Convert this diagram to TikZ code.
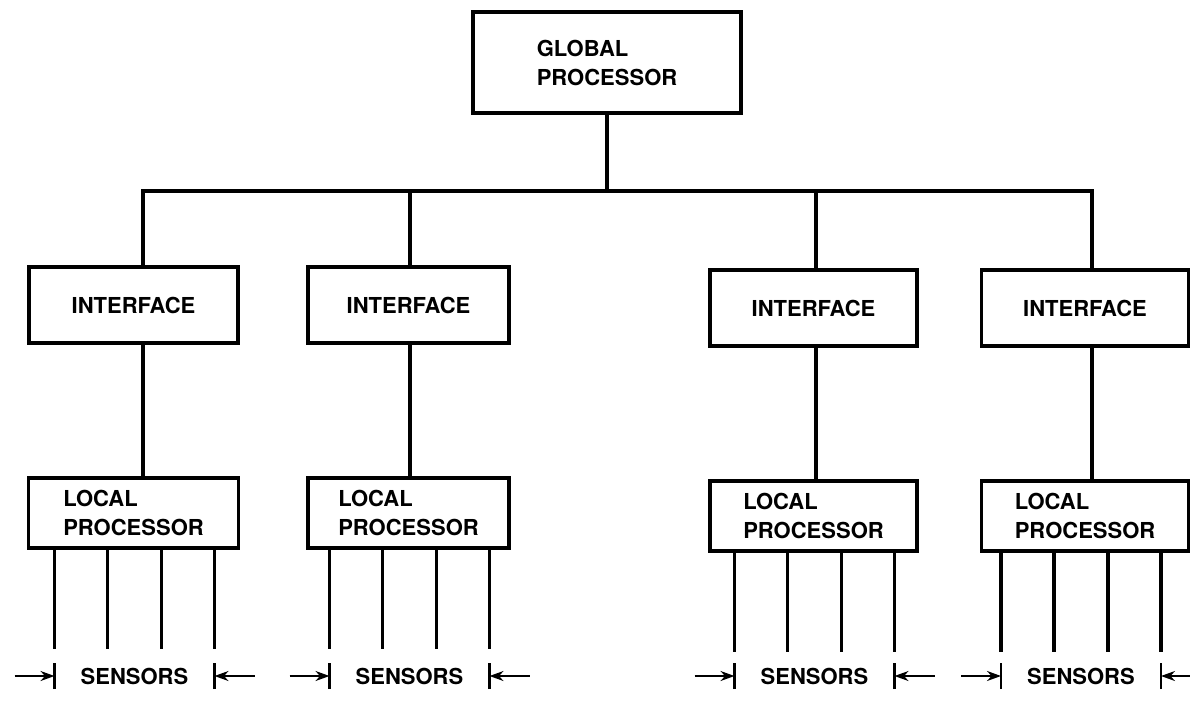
\documentclass[tikz,border=0pt]{standalone}
\usepackage{fontspec}
\setmainfont{TeX Gyre Heros}
\usetikzlibrary{positioning,calc,arrows.meta}

\begin{document}
\begin{tikzpicture}[x=1pt, y=-1pt, line width=3.5pt,
    block/.style={draw, minimum width=207pt, align=left, font=\fontsize{22}{29}\selectfont\bfseries},
    ifbox/.style={block, minimum height=76pt},
    lpbox/.style={block, minimum height=70pt, on grid, below=208pt of #1},
    tag/.style={font=\fontsize{22}{26}\selectfont\bfseries},]
    \useasboundingbox (0,0) rectangle (1190,701);
    \node[block, minimum width=268pt, minimum height=101pt] (glob) at (607,62.5) {GLOBAL\\PROCESSOR};
    \node[ifbox, minimum width=209pt] (if1) at (133.5,305) {INTERFACE};
    \node[ifbox, minimum width=201pt] (if2) at (408.5,305) {INTERFACE};
    \node[ifbox] (if3) at (813.5,308) {INTERFACE};
    \node[ifbox] (if4) at (1085,308) {INTERFACE};
    \node[lpbox=if1, minimum width=210pt] (lp1) {LOCAL\\PROCESSOR};
    \node[lpbox=if2, minimum width=201pt] (lp2) {LOCAL\\PROCESSOR};
    \node[lpbox=if3] (lp3) {LOCAL\\PROCESSOR};
    \node[lpbox=if4] (lp4) {LOCAL\\PROCESSOR};
    % bus taps
    \coordinate (t1) at (143,191);
    \coordinate (t2) at (410,191);
    \coordinate (t3) at (816,191);
    \coordinate (t4) at (1092,191);
    \draw (glob.south) -- (glob.south |- t1);
    \draw (t1 |- if1.north) -- (t1) -- (t4) -- (t4 |- if4.north);
    \draw (t2) -- (t2 |- if2.north);
    \draw (t3) -- (t3 |- if3.north);
    \foreach \i in {1,...,4}
        \draw (if\i.south -| t\i) -- (t\i |- lp\i.north);
    % sensor leads and their labels
    \foreach \p/\s in {1/0, 2/0, 3/0, 4/-5} {
        \foreach \d in {-79,-26,28,81}
            \draw ([xshift=\d pt+\s pt]lp\p.south) -- ++(0,99);
        \coordinate (bl\p) at ($(lp\p.south |- 0,676)+(-79+\s,0)$);
        \coordinate (br\p) at ($(lp\p.south |- 0,676)+(81+\s,0)$);
        \draw[line width=2.5pt] ([yshift=-13pt]bl\p) -- ([yshift=13pt]bl\p);
        \draw[line width=2.5pt] ([yshift=-13pt]br\p) -- ([yshift=13pt]br\p);
        \draw[line width=2pt, -{Stealth[length=14pt,width=10pt]}] ([xshift=-40pt]bl\p) -- (bl\p);
        \draw[line width=2pt, -{Stealth[length=14pt,width=10pt]}] ([xshift=40pt]br\p) -- (br\p);
        \node[tag] (sn\p) at ($(bl\p)!0.5!(br\p)$) {SENSORS};
    }
\end{tikzpicture}
\end{document}
